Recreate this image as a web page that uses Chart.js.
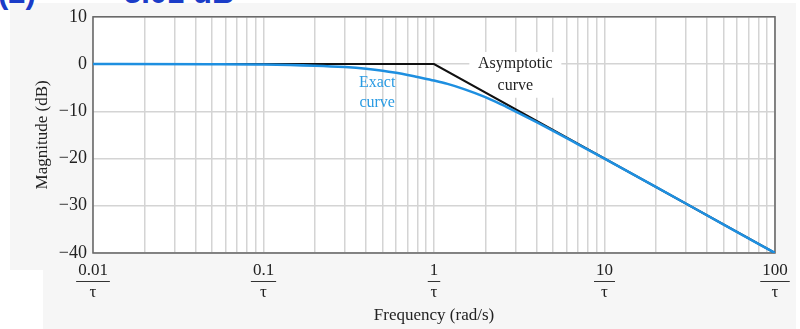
<!DOCTYPE html>
<html>
<head>
<meta charset="utf-8">
<script src="https://cdn.jsdelivr.net/npm/chart.js@4"></script>
<style>
body { margin:0; background:#fff; width:800px; height:329px; overflow:hidden; position:relative; }
.panel { position:absolute; background:#f6f6f6; }
.head { position:absolute; top:-25px; color:#1a3cc8; font:bold 31px "Liberation Sans", sans-serif; white-space:pre; }
canvas { position:absolute; left:0; top:0; }
</style>
</head>
<body>
<div class="panel" style="left:10px;top:3px;width:786px;height:267px"></div>
<div class="panel" style="left:43px;top:266px;width:753px;height:63px"></div>
<div class="head" style="left:-2px">(2)</div>
<div class="head" style="left:124px">3.01 dB</div>
<canvas id="bode" width="800" height="329"></canvas>
<script>
// values
const exactFreq = [0.01, 0.05, 0.1, 0.2, 0.3, 0.4, 0.5, 0.6, 0.7, 0.8, 1, 1.2, 1.5, 2, 2.5, 3, 4, 5, 7, 10, 20, 50, 100];
const exactDb = [0, -0.02, -0.08, -0.35, -0.65, -1.0, -1.4, -1.85, -2.3, -2.75, -3.5, -4.2, -5.3, -7.0, -8.6, -10.0, -12.3, -14.15, -17.0, -20.04, -26.0, -33.98, -40.0];

const asymFreq = [0.01, 1, 100];
const asymDb = [0, 0, -40];

const decadeTicks = [0.01, 0.1, 1, 10, 100];
const decadeLabels = ["0.01", "0.1", "1", "10", "100"];
const dbTicks = [10, 0, -10, -20, -30, -40];

// grid lines at 1..9 of each decade
const gridFreq = [];
for (let e = -2; e < 2; e++) {
  for (let m = 1; m < 10; m++) {
    gridFreq.push(+(m * Math.pow(10, e)).toPrecision(3));
  }
}
gridFreq.push(100);

const serif = "'Liberation Serif', 'DejaVu Serif', serif";

function decadeIndex(v) {
  for (let i = 0; i < decadeTicks.length; i++) {
    if (Math.abs(v - decadeTicks[i]) / decadeTicks[i] < 1e-6) return i;
  }
  return -1;
}

const framePlugin = {
  id: "frame",
  beforeDraw(chart) {
    const { ctx, chartArea: a } = chart;
    ctx.save();
    ctx.fillStyle = "#ffffff";
    ctx.fillRect(a.left, a.top, a.right - a.left, a.bottom - a.top);
    ctx.restore();
  },
  beforeDatasetsDraw(chart) {
    const { ctx, chartArea: a, scales } = chart;
    const x = scales.x, y = scales.y;
    ctx.save();
    // plot frame
    ctx.strokeStyle = "#666";
    ctx.lineWidth = 1.5;
    ctx.strokeRect(a.left, a.top, a.right - a.left, a.bottom - a.top);

    ctx.font = "16px " + serif;
    ctx.textAlign = "center";
    ctx.textBaseline = "middle";

    // asymptotic label with white box behind it
    const ax = x.getPixelForValue(3);
    const ay1 = y.getPixelForValue(0), ay2 = y.getPixelForValue(-4.6);
    ctx.fillStyle = "#ffffff";
    ctx.fillRect(ax - 46, ay1 - 12, 92, ay2 - ay1 + 24);
    ctx.fillStyle = "#222";
    ctx.fillText("Asymptotic", ax, ay1);
    ctx.fillText("curve", ax, ay2);

    // exact label
    const ex = x.getPixelForValue(0.464);
    ctx.fillStyle = "#2a9be3";
    ctx.fillText("Exact", ex, y.getPixelForValue(-3.9));
    ctx.fillText("curve", ex, y.getPixelForValue(-8.2));
    ctx.restore();
  },
  afterDraw(chart) {
    // fraction bars under the numerators
    const { ctx, scales } = chart;
    const x = scales.x;
    ctx.save();
    ctx.font = "17px " + serif;
    ctx.strokeStyle = "#333";
    ctx.lineWidth = 1;
    decadeTicks.forEach((v, i) => {
      const px = x.getPixelForValue(v);
      const w = ctx.measureText(decadeLabels[i]).width + 4;
      ctx.beginPath();
      ctx.moveTo(px - w / 2, 281.5);
      ctx.lineTo(px + w / 2, 281.5);
      ctx.stroke();
    });
    ctx.restore();
  }
};

const ctx = document.getElementById("bode").getContext("2d");
new Chart(ctx, {
  type: "line",
  data: {
    datasets: [
      {
        label: "Exact curve",
        data: exactFreq.map((f, i) => ({ x: f, y: exactDb[i] })),
        borderColor: "#1e8fe0",
        borderWidth: 2.5,
        pointRadius: 0,
        fill: false,
        cubicInterpolationMode: "monotone"
      },
      {
        label: "Asymptotic curve",
        data: asymFreq.map((f, i) => ({ x: f, y: asymDb[i] })),
        borderColor: "#111",
        borderWidth: 2,
        pointRadius: 0,
        fill: false,
        tension: 0
      }
    ]
  },
  options: {
    responsive: false,
    animation: false,
    layout: { padding: { left: 10, top: 16, right: 25, bottom: 0 } },
    plugins: {
      legend: { display: false },
      tooltip: { enabled: false }
    },
    scales: {
      x: {
        type: "logarithmic",
        min: 0.01,
        max: 100,
        afterBuildTicks: (scale) => {
          scale.ticks = gridFreq.map((v) => ({ value: v }));
        },
        afterFit: (scale) => {
          scale.height = 76;
        },
        grid: { color: "#d4d4d4", lineWidth: 1.5, drawTicks: false },
        border: { display: false },
        ticks: {
          autoSkip: false,
          maxRotation: 0,
          padding: 7,
          color: "#222",
          font: { family: serif, size: 17, lineHeight: "22px" },
          callback: (value) => {
            const i = decadeIndex(value);
            return i < 0 ? "" : [decadeLabels[i], "τ"];
          }
        },
        title: {
          display: true,
          text: "Frequency (rad/s)",
          color: "#222",
          font: { family: serif, size: 17, lineHeight: "20px" },
          padding: { top: 0, bottom: 3 }
        }
      },
      y: {
        min: -40,
        max: 10,
        afterBuildTicks: (scale) => {
          scale.ticks = dbTicks.map((v) => ({ value: v }));
        },
        afterFit: (scale) => {
          scale.width = 83;
        },
        grid: { color: "#d4d4d4", lineWidth: 1.5, drawTicks: false },
        border: { display: false },
        ticks: {
          padding: 6,
          color: "#222",
          font: { family: serif, size: 18 },
          callback: (value) => (value < 0 ? "\u2212" + Math.abs(value) : String(value))
        },
        title: {
          display: true,
          text: "Magnitude (dB)",
          color: "#222",
          font: { family: serif, size: 17, lineHeight: "20px" },
          padding: { top: 23, bottom: 0 }
        }
      }
    }
  },
  plugins: [framePlugin]
});
</script>
</body>
</html>
